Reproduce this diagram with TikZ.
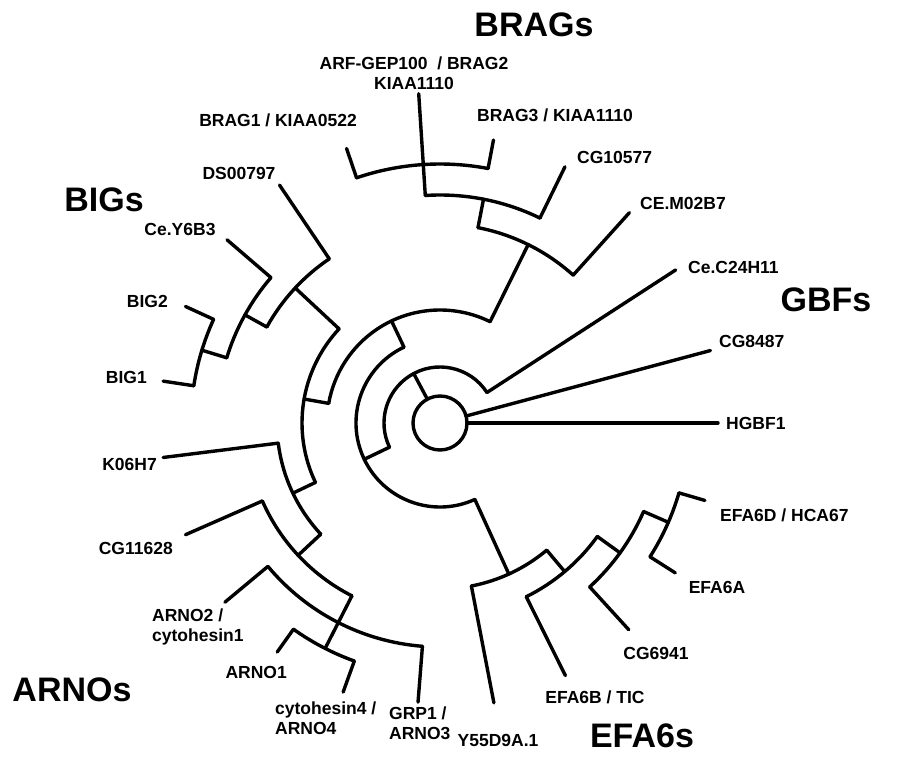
\documentclass[tikz,border=0pt]{standalone}
\usepackage{fontspec}
\setmainfont{Liberation Sans}
\usetikzlibrary{calc}
\tikzset{
  br/.style={line width=3.4pt, line cap=round, line join=round},
  leaf/.style={font=\bfseries\fontsize{17.5}{20}\selectfont, inner sep=0pt},
  grp/.style={font=\bfseries\fontsize{34}{40}\selectfont, inner sep=0pt},
}

\begin{document}
\begin{tikzpicture}[x=1pt, y=1pt]
    \useasboundingbox (0,0) rectangle (923,758);
    \coordinate (O) at (440,335);
    \draw[br] (O) circle[radius=27pt];
    \foreach \ang/\rin/\rout in {0/27/278, 15/27/280, 118/27/56, 33/56/281, 205.6/56/84,
      115.4/84/113, 294.5/84/166, 63.7/113/199, 170/113/138, 137/138/198, 205.5/138/163,
      124/198/287, 151/198/223, 139.3/223/281, 163/223/249, 155.4/249/280, 171.4/249/280,
      187.1/163/279, 223/163/194, 203.7/194/278, 243/194/253, 219.8/224/280, 265.5/224/280,
      234.6/253/281, 250.2/253/286, 280.9/166/285, 310/166/194, 296.4/194/282, 324.2/194/222,
      312.4/222/280, 336.5/222/249, 327.5/249/279, 343.7/249/276, 48/199/283, 79/199/228,
      64/228/285, 93.7/228/330, 108.8/259/290, 79.3/259/288}
      \draw[br] ([shift={(\ang:\rin)}]O) -- ([shift={(\ang:\rout)}]O);
    \foreach \rad/\from/\to in {56/33/205.6, 84/115.4/294.5, 113/63.7/170, 138/137/205.5,
      198/124/151, 223/139.3/163, 249/155.4/171.4, 163/187.1/223, 194/203.7/243,
      224/219.8/265.5, 253/234.6/250.2, 166/280.9/310, 194/296.4/324.2, 222/312.4/336.5,
      249/327.5/343.7, 199/48/79, 228/64/93.7, 259/79.3/108.8}
      \draw[br] ([shift={(\from:\rad)}]O) arc[start angle=\from, end angle=\to, radius=\rad pt];
    \node[leaf, anchor=west] (hgbf1) at (726,335) {HGBF1};
    \node[leaf, anchor=west] (cg8487) at (719,417) {CG8487};
    \node[leaf, anchor=west] (c24h11) at (688,491) {Ce.C24H11};
    \node[leaf, anchor=west] (m02b7) at (640,555) {CE.M02B7};
    \node[leaf, anchor=west] (cg10577) at (577,601) {CG10577};
    \node[leaf, anchor=west] (brag3) at (477,643) {BRAG3 / KIAA1110};
    \node[leaf, align=center] (brag2) at (414,685) {ARF-GEP100~~/ BRAG2\\KIAA1110};
    \node[leaf, anchor=east] (brag1) at (357,638) {BRAG1 / KIAA0522};
    \node[leaf] (ds00797) at (239,585) {DS00797};
    \node[leaf] (y6b3) at (180,529) {Ce.Y6B3};
    \node[leaf, anchor=east] (big2) at (168,457) {BIG2};
    \node[leaf, anchor=east] (big1) at (147,381) {BIG1};
    \node[leaf, anchor=east] (k06h7) at (157,294) {K06H7};
    \node[leaf, anchor=east] (cg11628) at (173,210) {CG11628};
    \node[leaf, anchor=west, align=left] (arno2) at (152,131) {ARNO2 /\\cytohesin1};
    \node[leaf, anchor=east] (arno1) at (287,86) {ARNO1};
    \node[leaf, anchor=west, align=left] (cyt4) at (275,40) {cytohesin4 /\\ARNO4};
    \node[leaf, anchor=west, align=left] (grp1) at (389,35) {GRP1 /\\ARNO3};
    \node[leaf] (y55) at (498,18) {Y55D9A.1};
    \node[leaf] (efa6b) at (595,61) {EFA6B / TIC};
    \node[leaf] (cg6941) at (656,105) {CG6941};
    \node[leaf] (efa6a) at (717,171) {EFA6A};
    \node[leaf, anchor=west] (efa6d) at (720,243) {EFA6D / HCA67};
    \node[grp] (brags) at (534,733) {BRAGs};
    \node[grp] (bigs) at (104,558) {BIGs};
    \node[grp] (gbfs) at (826,458) {GBFs};
    \node[grp] (arnos) at (72,68) {ARNOs};
    \node[grp] (efa6s) at (642,22) {EFA6s};
\end{tikzpicture}
\end{document}
